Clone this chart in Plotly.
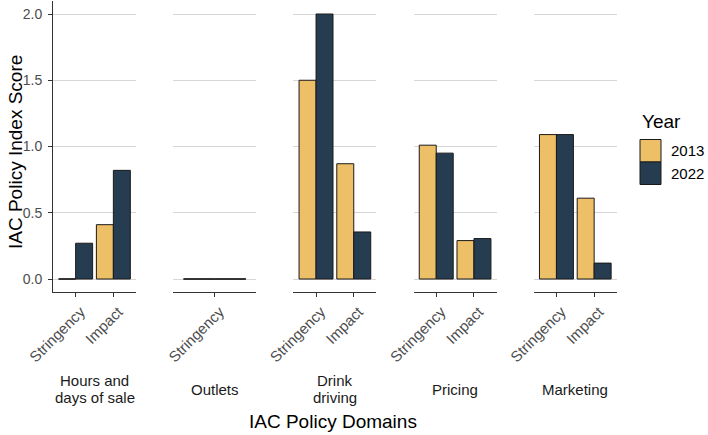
import plotly.graph_objects as go

# ---- data ----
domains = ["Hours and\ndays of sale", "Outlets", "Drink\ndriving", "Pricing", "Marketing"]
domain_of_row = ["Hours and\ndays of sale", "Hours and\ndays of sale", "Outlets",
                 "Drink\ndriving", "Drink\ndriving", "Pricing", "Pricing",
                 "Marketing", "Marketing"]
measure = ["Stringency", "Impact", "Stringency", "Stringency", "Impact",
           "Stringency", "Impact", "Stringency", "Impact"]
score_2013 = [0.0, 0.41, 0.0, 1.50, 0.87, 1.01, 0.29, 1.09, 0.61]
score_2022 = [0.27, 0.82, 0.0, 2.00, 0.355, 0.95, 0.305, 1.09, 0.12]
years = ["2013", "2022"]
y_ticks = [0.0, 0.5, 1.0, 1.5, 2.0]

colors = {"2013": "#EDBF67", "2022": "#263D51"}
W, H = 708, 435
FONT = "Liberation Sans, Arial"

fig = go.Figure()

# panel geometry (pixels)
panel_left0 = 53
panel_w = 83
panel_pitch = 120.2
panel_top = 0.75
panel_bottom = 292.25

def px_x(v):
    return v / W

def px_y(v):
    return 1 - v / H

x_tick_font = dict(family=FONT, size=15, color="#4D4D4D")
y_tick_font = dict(family=FONT, size=14, color="#4D4D4D")

for i, dom in enumerate(domains):
    idx = [k for k, d in enumerate(domain_of_row) if d == dom]
    cats = [measure[k] for k in idx]
    n = len(cats)
    xa = "x" if i == 0 else f"x{i+1}"
    ya = "y" if i == 0 else f"y{i+1}"
    for yr, vals in zip(years, [score_2013, score_2022]):
        v = [vals[k] for k in idx]
        fig.add_trace(go.Bar(
            x=list(range(n)), y=v, name=yr, xaxis=xa, yaxis=ya,
            marker=dict(color=colors[yr], line=dict(color="#1a1a1a", width=1)),
            offsetgroup=yr, showlegend=False, hoverinfo="skip",
        ))
        # zero-valued bars are drawn by ggplot as a flat outline
        zx, zy = [], []
        for j, val in enumerate(v):
            if val == 0:
                off = -0.45 if yr == "2013" else 0.0
                zx += [j + off, j + off + 0.45, None]
                zy += [0, 0, None]
        if zx:
            fig.add_trace(go.Scatter(x=zx, y=zy, mode="lines", xaxis=xa, yaxis=ya,
                                     line=dict(color="#1a1a1a", width=1),
                                     showlegend=False, hoverinfo="skip"))
    x0 = panel_left0 + i * panel_pitch
    dom_x = [px_x(x0), px_x(x0 + panel_w)]
    xkey = "xaxis" if i == 0 else f"xaxis{i+1}"
    ykey = "yaxis" if i == 0 else f"yaxis{i+1}"
    fig.layout[xkey] = dict(
        domain=dom_x, anchor=ya, range=[-0.6, n - 0.4],
        tickmode="array", tickvals=list(range(n)), ticktext=cats,
        tickangle=-45, tickfont=x_tick_font, automargin=False,
        ticklabelshift=5,
        showline=True, linecolor="#333333", linewidth=1,
        ticks="outside", ticklen=4, tickcolor="#333333",
        showgrid=False, zeroline=False, fixedrange=True,
    )
    fig.layout[ykey] = dict(
        domain=[px_y(panel_bottom), px_y(panel_top)], anchor=xa,
        range=[-0.1, 2.1], tickmode="array", tickvals=y_ticks,
        ticktext=[f"{t:.1f}" for t in y_ticks], automargin=False,
        showgrid=True, gridcolor="#D6D6D6", gridwidth=1, zeroline=False,
        showticklabels=(i == 0), tickfont=y_tick_font, ticklabelstandoff=3,
        showline=(i == 0), linecolor="#333333", linewidth=1,
        ticks="outside" if i == 0 else "", ticklen=4, tickcolor="#333333",
        fixedrange=True,
    )
    lines = dom.split("\n")
    line_h = 17
    y_center = 389
    for L, txt in enumerate(lines):
        yy = y_center + (L - (len(lines) - 1) / 2) * line_h
        fig.add_annotation(
            x=px_x(x0 + panel_w / 2), y=px_y(yy), xref="paper", yref="paper",
            text=txt, showarrow=False, xanchor="center", yanchor="middle",
            font=dict(family=FONT, size=15, color="#1A1A1A"),
        )

# axis titles
fig.add_annotation(x=px_x(333), y=px_y(421), xref="paper", yref="paper",
                   text="IAC Policy Domains", showarrow=False,
                   xanchor="center", yanchor="middle",
                   font=dict(family=FONT, size=19, color="#000000"))
fig.add_annotation(x=px_x(15), y=px_y(152), xref="paper", yref="paper",
                   text="IAC Policy Index Score", showarrow=False, textangle=-90,
                   xanchor="center", yanchor="middle",
                   font=dict(family=FONT, size=19, color="#000000"))

# legend
fig.add_annotation(x=px_x(640), y=px_y(122), xref="paper", yref="paper",
                   text="Year", showarrow=False, xanchor="left", yanchor="middle",
                   font=dict(family=FONT, size=19, color="#000000"))
key_top = 139.5
key_h = 22.5
for j, yr in enumerate(years):
    t = key_top + j * key_h
    fig.add_shape(type="rect", xref="paper", yref="paper",
                  x0=px_x(640), x1=px_x(661), y0=px_y(t + key_h), y1=px_y(t),
                  fillcolor=colors[yr], line=dict(color="#1a1a1a", width=1))
    fig.add_annotation(x=px_x(669), y=px_y(t + key_h / 2), xref="paper", yref="paper",
                       text=yr, showarrow=False, xanchor="left", yanchor="middle",
                       font=dict(family=FONT, size=15, color="#000000"))

fig.update_layout(
    width=W, height=H, margin=dict(l=0, r=0, t=0, b=0, autoexpand=False),
    paper_bgcolor="white", plot_bgcolor="white",
    barmode="group", bargap=0.1, bargroupgap=0,
    showlegend=False,
)

fig.write_html("out.html")
